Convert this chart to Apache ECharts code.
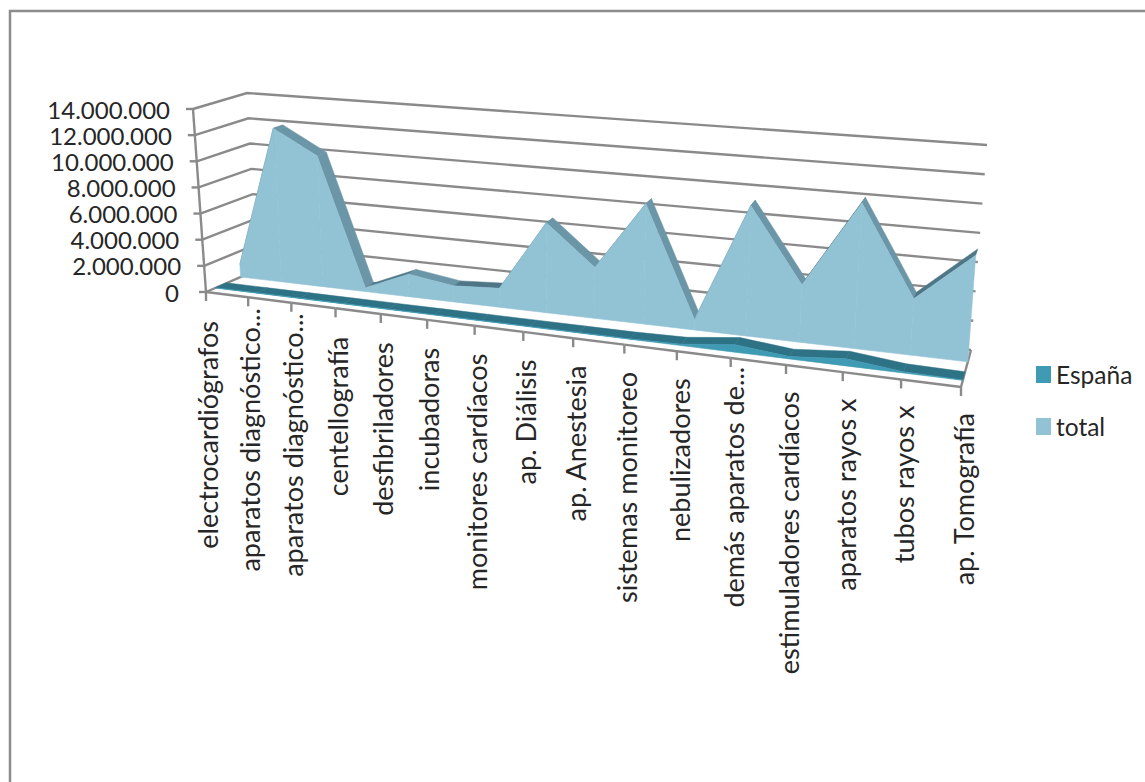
<!DOCTYPE html>
<html><head><meta charset="utf-8">
<style>html,body{margin:0;padding:0;background:#fff}#c{width:1145px;height:782px}</style>
<script src="https://cdn.jsdelivr.net/npm/echarts@6/dist/echarts.min.js"></script>
</head><body><div id="c"></div>
<script>
const categories = ['electrocardiógrafos','aparatos diagnóstico...','aparatos diagnóstico...','centellografía','desfibriladores','incubadoras','monitores cardíacos','ap. Diálisis','ap. Anestesia','sistemas monitoreo','nebulizadores','demás aparatos de...','estimuladores cardíacos','aparatos rayos x','tubos rayos x','ap. Tomografía'];
const espana = [30000,30000,30000,30000,30000,30000,30000,30000,30000,30000,100000,520000,160000,480000,90000,30000];
const total = [1000000,11900000,10050000,300000,1700000,1200000,1400000,6600000,3700000,8660000,750000,9200000,4000000,10050000,3850000,7200000];
const yTicks = [0,2000000,4000000,6000000,8000000,10000000,12000000,14000000];
const yMax = 14000000;

const G = {left:206, top:109, width:755, height:183};
const C = {FL:[206,292],FR:[961,387],BL:[257,270],BR:[971,350],TFL:[193,109],TFR:[975,175],TBL:[247,93],TBR:[987,145]};
const PERSP = 1.207;
const FONT = 'Lato';
const TXT = '#262626', GRID = '#8a8a8a';
const lerp=(a,b,t)=>[a[0]+(b[0]-a[0])*t,a[1]+(b[1]-a[1])*t];
function proj(p,w){
  const t0=(p[0]-G.left)/G.width, v=(G.top+G.height-p[1])/G.height;
  const t=t0/(t0+PERSP*(1-t0));
  const bot=lerp(lerp(C.FL,C.FR,t),lerp(C.BL,C.BR,t),w);
  const top=lerp(lerp(C.TFL,C.TFR,t),lerp(C.TBL,C.TBR,t),w);
  return lerp(bot,top,v);
}
function areaSeries(name,values,w0,w1,front,topc,riseC,z){
  return {name,type:'custom',coordinateSystem:'cartesian2d',z,clip:false,silent:true,
    itemStyle:{color:front},
    data:values.map((v,i)=>[i,v]),
    encode:{x:0,y:1},
    renderItem(params,api){
      const i=api.value(0), a=api.value(1), n=values.length;
      if(i>=n-1) return {type:'group',children:[]};
      const b=values[i+1];
      const face=b>a?riseC:topc;
      const pa=api.coord([i,a]), pb=api.coord([i+1,b]), a0=api.coord([i,0]), b0=api.coord([i+1,0]);
      return {type:'group',children:[
        {type:'polygon',z2:1,shape:{points:[proj(pa,w0),proj(pb,w0),proj(pb,w1),proj(pa,w1)]},style:{fill:face,stroke:face,lineWidth:.5}},
        {type:'polygon',z2:2,shape:{points:[proj(a0,w0),proj(pa,w0),proj(pb,w0),proj(b0,w0)]},style:{fill:front,stroke:front,lineWidth:.6}}
      ]};
    }};
}
const chart=echarts.init(document.getElementById('c'),null,{renderer:'svg',width:1145,height:782});
chart.setOption({
  animation:false,
  backgroundColor:'#fff',
  grid:{left:G.left,top:G.top,width:G.width,height:G.height},
  xAxis:{type:'category',data:categories,boundaryGap:false,show:false},
  yAxis:{type:'value',min:0,max:yMax,interval:2000000,show:false},
  legend:{orient:'vertical',left:1031,top:357,itemWidth:15,itemHeight:17,itemGap:27,icon:'rect',
    selectedMode:false,data:['España','total'],
    textStyle:{fontFamily:FONT,fontSize:24.5,color:TXT}},
  graphic:[
    {type:'polyline',silent:true,shape:{points:[[10,782],[10,11],[1145,11]]},style:{fill:'none',stroke:'#8c8c8c',lineWidth:2.5}}
  ],
  series:[
    {name:'walls',type:'custom',coordinateSystem:'cartesian2d',z:1,clip:false,silent:true,
      data:yTicks.map(v=>[0,v]),encode:{x:0,y:1},
      renderItem(params,api){
        const v=api.value(1);
        const l=api.coord([0,v]), r=api.coord([categories.length-1,v]);
        const fl=proj(l,0), bl=proj(l,1), br=proj(r,1);
        const s={fill:'none',stroke:GRID,lineWidth:2.4};
        const kids=[
          {type:'polyline',shape:{points:[fl,bl,br]},style:s},
          {type:'line',shape:{x1:fl[0]-7,y1:fl[1],x2:fl[0],y2:fl[1]},style:s},
          {type:'text',x:fl[0]-(v===0?27:23),y:fl[1],style:{text:echarts.format.addCommas(v).replace(/,/g,'.'),fontFamily:FONT,fontSize:24,fill:TXT,align:'right',verticalAlign:'middle'}}
        ];
        if(v===0){
          const fr=proj(r,0), top=proj(api.coord([0,yMax]),0);
          kids.push({type:'line',shape:{x1:fl[0],y1:fl[1],x2:top[0],y2:top[1]},style:s});
          kids.push({type:'line',shape:{x1:fr[0],y1:fr[1],x2:proj(r,1)[0],y2:proj(r,1)[1]},style:s});
        }
        return {type:'group',children:kids};
      }},
    areaSeries('total',total,.68,.87,'#92c3d5','#6b96a7','#4f7686',2),
    areaSeries('España',espana,.18,.40,'#3f9ab3','#2e7285','#2e7285',3),
    {name:'axis',type:'custom',coordinateSystem:'cartesian2d',z:4,clip:false,silent:true,
      data:categories.map((c,i)=>[i,0]),encode:{x:0,y:1},
      renderItem(params,api){
        const i=api.value(0), n=categories.length;
        const p=proj(api.coord([i,0]),0);
        const s={fill:'none',stroke:GRID,lineWidth:2.4};
        const kids=[{type:'line',shape:{x1:p[0],y1:p[1],x2:p[0],y2:p[1]+9},style:s}];
        if(i<n-1){const q=proj(api.coord([i+1,0]),0);kids.push({type:'line',shape:{x1:p[0],y1:p[1],x2:q[0],y2:q[1]},style:s});}
        const name=categories[i], shift=name.endsWith('...')?18:0;
        kids.push({type:'text',x:p[0]+2+i*0.1,y:p[1]+29-i*0.2-shift,rotation:Math.PI/2,scaleX:1.04,
          style:{text:name,fontFamily:FONT,fontSize:26,fill:TXT,align:'right',verticalAlign:'middle'}});
        return {type:'group',children:kids};
      }}
  ]
});
</script></body></html>
